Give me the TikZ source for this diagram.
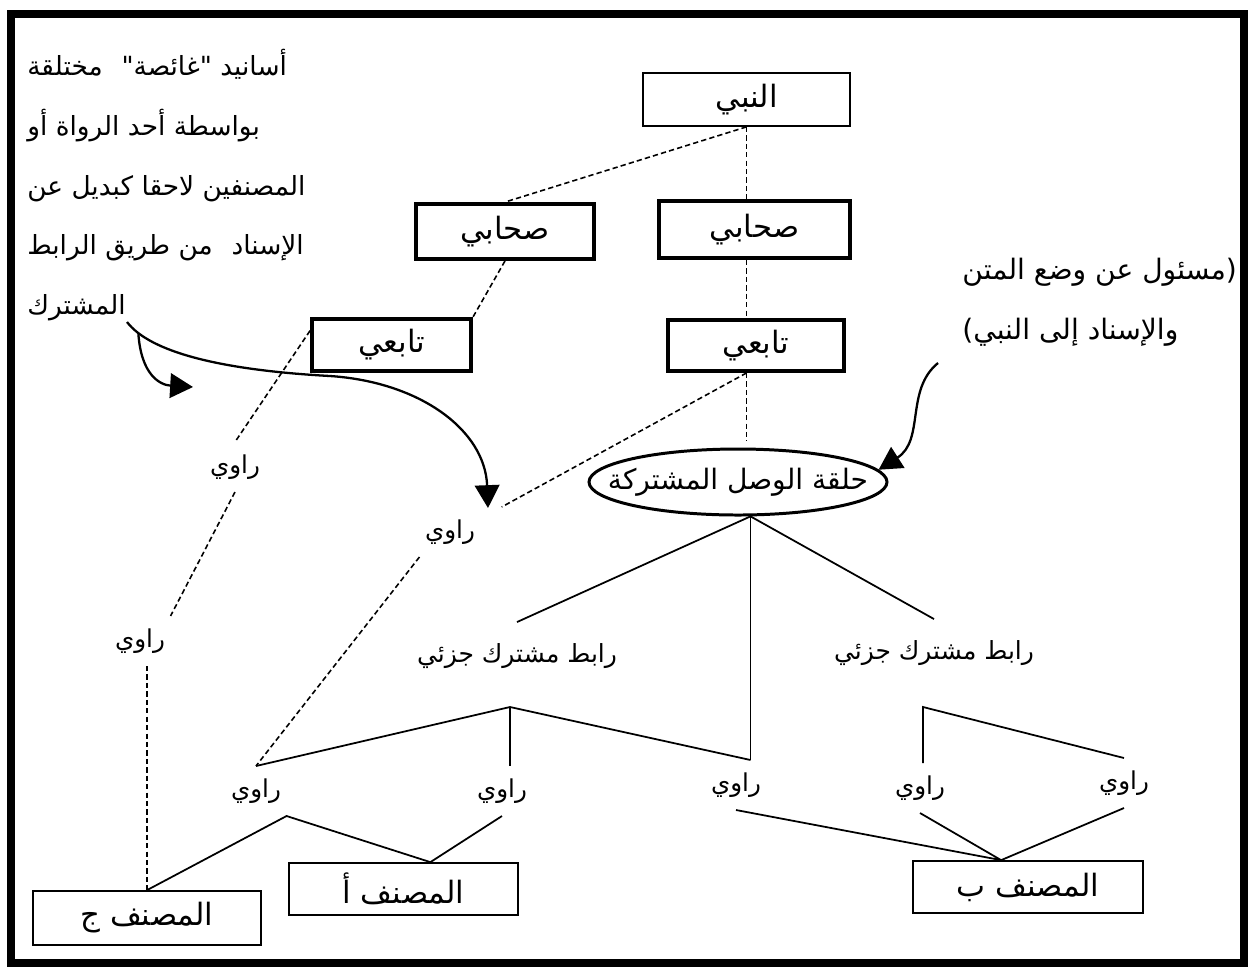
\documentclass[tikz,border=0pt]{standalone}
\usepackage{fontspec}
\newfontfamily\arabicfont[Script=Arabic]{DejaVu Sans}
\newfontfamily\latinfont{DejaVu Sans}
\TeXXeTstate=1
\usetikzlibrary{shapes.geometric,arrows.meta}
\newcommand{\artext}[1]{\beginR #1\endR}
\tikzset{
  isnad/.style={dash pattern=on 3pt off 1.8pt, line width=0.9pt},
  link/.style={line width=1pt},
  ghost/.style={line width=1.3pt, -{Triangle[length=13pt,width=14pt]}},
  thinbox/.style={draw, line width=1pt, inner sep=0pt, font=\arabicfont\fontsize{17.5}{20}\selectfont},
  thickbox/.style={draw, line width=2.2pt, inner sep=0pt, font=\arabicfont\fontsize{17.5}{20}\selectfont},
  hubring/.style={draw, ellipse, line width=1.7pt, inner sep=0pt, minimum width=59.6mm, minimum height=13.2mm, font=\arabicfont\fontsize{16}{19}\selectfont},
  partial/.style={inner xsep=2pt, inner ysep=12pt, font=\arabicfont\fontsize{14.2}{17}\selectfont},
  narrator/.style={inner xsep=3pt, inner ysep=7pt, font=\arabicfont\fontsize{14}{17}\selectfont},
  note/.style={align=left, inner sep=0pt, font=\arabicfont\fontsize{15}{34}\selectfont}
}
\begin{document}
\begin{tikzpicture}[x=0.2mm,y=-0.2mm]
\useasboundingbox (0,0) rectangle (1259,972);
\draw[line width=4.5pt] (11,14) rectangle (1244,963);
% chain boxes
\node[thinbox, minimum width=41.4mm, minimum height=10.6mm] (nabi) at (746.5,99.5) {\artext{النبي}};
\node[thickbox, minimum width=38.2mm, minimum height=11.4mm] (sahabiR) at (754.5,229.5) {\artext{صحابي}};
\node[thickbox, minimum width=35.6mm, minimum height=11mm] (sahabiL) at (505,231.5) {\artext{صحابي}};
\node[thickbox, minimum width=35.2mm, minimum height=10.2mm] (tabiR) at (756,345.5) {\artext{تابعي}};
\node[thickbox, minimum width=31.8mm, minimum height=10.4mm] (tabiL) at (391.5,345) {\artext{تابعي}};
\node[hubring] (hub) at (738,482) {\makebox[0pt]{\artext{حلقة الوصل المشتركة}}};
\node[partial] (linkL) at (517,656) {\artext{رابط مشترك جزئي}};
\node[partial] (linkR) at (934,653) {\artext{رابط مشترك جزئي}};
% narrators
\node[narrator] (rawiA) at (235,467) {\artext{راوي}};
\node[narrator] (rawiB) at (140,641) {\artext{راوي}};
\node[narrator] (rawiM) at (450,532) {\artext{راوي}};
\node[narrator] (rawiC) at (256,791) {\artext{راوي}};
\node[narrator] (rawiD) at (502,791) {\artext{راوي}};
\node[narrator] (rawiE) at (736,785) {\artext{راوي}};
\node[narrator] (rawiF) at (920,788) {\artext{راوي}};
\node[narrator] (rawiG) at (1124,783) {\artext{راوي}};
% authors
\node[thinbox, minimum width=45.6mm, minimum height=10.8mm] (musannifJ) at (147,918) {\artext{المصنف ج}};
\node[thinbox, minimum width=45.8mm, minimum height=10.4mm] (musannifA) at (403.5,889) {\artext{المصنف أ}};
\node[thinbox, minimum width=46mm, minimum height=10.4mm] (musannifB) at (1028,887) {\artext{المصنف ب}};
% notes
\node[note, anchor=north west] (ghostNote) at (27,49) {\artext{أسانيد "غائصة"\hspace{0.4em} مختلقة}\\
  \artext{بواسطة أحد الرواة أو}\\
  \artext{المصنفين لاحقا كبديل عن}\\
  \artext{الإسناد\hspace{0.4em} من طريق الرابط}\\
  \artext{المشترك}};
\node[note, anchor=north west, font=\arabicfont\fontsize{16}{34}\selectfont] (hubNote) at (962,258) {\artext{مسئول عن وضع المتن}{\latinfont)}\\
  {\latinfont(}\artext{والإسناد إلى النبي}};
\coordinate (ghostStart) at (127,322);
\coordinate (noteTail) at (938,363);
\coordinate (forkL) at (510,707);
\coordinate (forkR) at (923,707);
% dashed isnad lines
\draw[isnad] (nabi.south) -- (nabi.south |- sahabiR.north);
\draw[isnad] (nabi.south) -- (sahabiL.north);
\draw[isnad] (sahabiR.south -| nabi.south) -- (tabiR.north -| nabi.south);
\draw[isnad] (sahabiL.south) -- (tabiL.north east);
\draw[isnad] (tabiR.south -| nabi.south) -- ([yshift=4pt]hub.north -| nabi.south);
\draw[isnad] (tabiR.south -| nabi.south) -- ([xshift=12pt]rawiM.north east);
\draw[isnad] (tabiL.170) -- (rawiA.north);
\draw[isnad] (rawiA.south) -- (rawiB.north east);
\draw[isnad] (rawiB.south -| musannifJ.north) -- (musannifJ.north);
\draw[isnad] (rawiM.south west) -- (rawiC.north);
% solid links
\draw[link] (hub.-70) -- (linkL.north);
\draw[link] (hub.-70) -- (linkR.north);
\draw[link] (hub.-70) -- (hub.-70 |- rawiE.north);
\draw[link] (rawiC.north) -- (forkL) -- (hub.-70 |- rawiE.north);
\draw[link] (forkL) -- (forkL |- rawiD.north);
\draw[link] (forkR |- rawiF.north) -- (forkR) -- (rawiG.north);
\draw[link] (musannifJ.north) -- (rawiC.south east) -- (musannifA.45) -- (rawiD.south);
\draw[link] (rawiE.south) -- (musannifB.135) -- (rawiF.south);
\draw[link] (musannifB.135) -- (rawiG.south);
% curved arrows
\draw[ghost] (ghostStart) .. controls (150,352) and (220,370) .. (330,376) coordinate[pos=0.13] (fork)
  .. controls (420,382) and (485,430) .. (488,508);
\draw[ghost] (fork) .. controls (141,375) and (160,385) .. (193,387);
\draw[ghost] (noteTail) .. controls (905,390) and (925,440) .. (hub.5);
\end{tikzpicture}
\end{document}
